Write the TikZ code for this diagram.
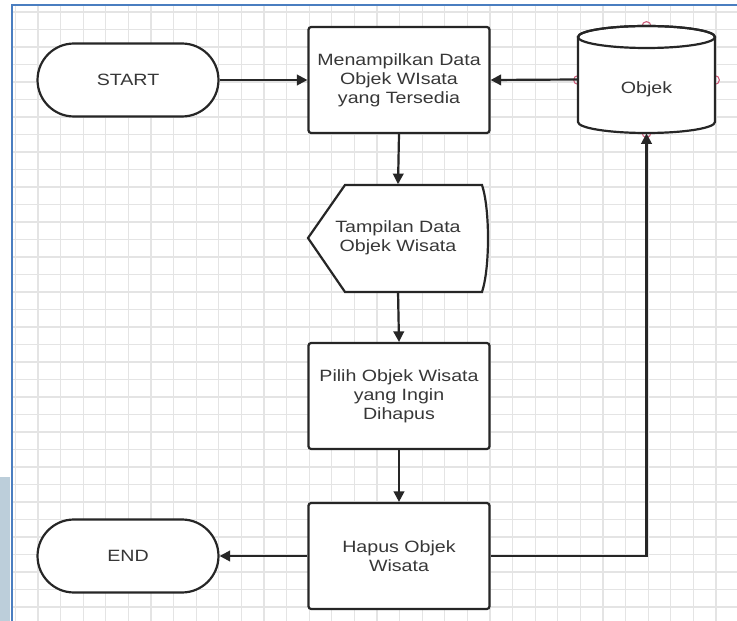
\documentclass[tikz,border=0pt]{standalone}
\usepackage{fontspec}
\usetikzlibrary{shapes.misc,arrows.meta,calc}
\newfontfamily\flowfont[FakeStretch=1.2]{Liberation Sans}
\definecolor{gridgray}{RGB}{228,228,228}
\definecolor{frameblue}{RGB}{74,126,192}
\definecolor{stripblue}{RGB}{188,206,218}
\definecolor{textgray}{RGB}{55,55,55}
\definecolor{pinkdot}{RGB}{205,90,120}

\begin{document}
\begin{tikzpicture}[>={Triangle[length=6pt,width=6pt]},x=0.02cm,y=-0.02cm,
	garis/.style={line width=1.25pt,draw=black!85},
	terminal/.style={garis,rounded rectangle,rounded rectangle arc length=180,fill=white,minimum width=3.62cm,minimum height=1.46cm,inner sep=0pt},
	proses/.style={garis,rectangle,rounded corners=1.5pt,fill=white,minimum width=3.62cm,minimum height=2.12cm,inner sep=0pt,align=center},
	teksbox/.style={rectangle,inner sep=0pt,align=center},
	every node/.style={font=\flowfont\fontsize{9.3pt}{10.8pt}\selectfont,text=textgray}]
		\useasboundingbox (0,0) rectangle (737,621);
		\fill[white] (0,0) rectangle (737,621);
		\fill[stripblue] (0,477) rectangle (10,621);
		% grid
		\foreach \k in {-1,...,30} \draw[gridgray,line width=0.6pt] ({38+22.6*\k},5) -- ({38+22.6*\k},621);
		\foreach \k in {0,...,34} \draw[gridgray,line width=0.6pt] (12,{12+17.5*\k}) -- (737,{12+17.5*\k});
		\draw[frameblue,line width=1.2pt] (12,621) -- (12,5) -- (737,5);
		% display shape
		\coordinate (layarpusat) at (398,238);
		\draw[garis,fill=white] ($(layarpusat)+(-53,-53)$) -- ($(layarpusat)+(-90,0)$) -- ($(layarpusat)+(-53,54)$) -- ($(layarpusat)+(84,54)$) .. controls ($(layarpusat)+(92,30)$) and ($(layarpusat)+(92,-29)$) .. ($(layarpusat)+(84,-53)$) -- cycle;
		% cylinder
		\coordinate (objekpusat) at (646.5,79.5);
		\foreach \p in {(646.5,26),(578,80),(715,80),(646.5,133)} \draw[pinkdot,line width=0.6pt] \p circle (2.5pt);
		\draw[garis,fill=white] ($(objekpusat)+(-68.5,-42.5)$) -- ($(objekpusat)+(-68.5,42.5)$) arc[start angle=180,end angle=360,x radius=1.37cm,y radius=0.22cm] -- ($(objekpusat)+(68.5,-42.5)$) arc[start angle=0,end angle=180,x radius=1.37cm,y radius=0.22cm] -- cycle;
		\draw[garis] ($(objekpusat)+(0,-42.5)$) ellipse[x radius=1.37cm,y radius=0.22cm];
		% nodes
		\node[terminal] (start) at (128,80) {START};
		\node[proses] (tampilkan) at (399,80) {Menampilkan Data\\Objek WIsata\\yang Tersedia};
		\node[teksbox,minimum width=3.6cm,minimum height=2.14cm] (layar) at (layarpusat) {Tampilan Data\\Objek Wisata};
		\node[proses] (pilih) at (399,396) {Pilih Objek Wisata\\yang Ingin\\Dihapus};
		\node[proses] (hapus) at (399,556) {Hapus Objek\\Wisata};
		\node[terminal] (end) at (128,556) {END};
		\node[teksbox,minimum width=2.74cm,minimum height=2.14cm,text height=18pt,text depth=2pt] (objek) at (objekpusat) {Objek};
		% connectors
		\draw[garis,->] (start.east) -- (tampilkan.west);
		\draw[garis,->] (objek.west) -- (tampilkan.east);
		\draw[garis,->] (tampilkan.south) -- (layar.north);
		\draw[garis,->] (layar.south) -- (pilih.north);
		\draw[garis,->] (pilih.south) -- (hapus.north);
		\draw[garis,->] (hapus.west) -- (end.east);
		\draw[garis,->] (hapus.east) -| (objek.south);
\end{tikzpicture}
\end{document}
